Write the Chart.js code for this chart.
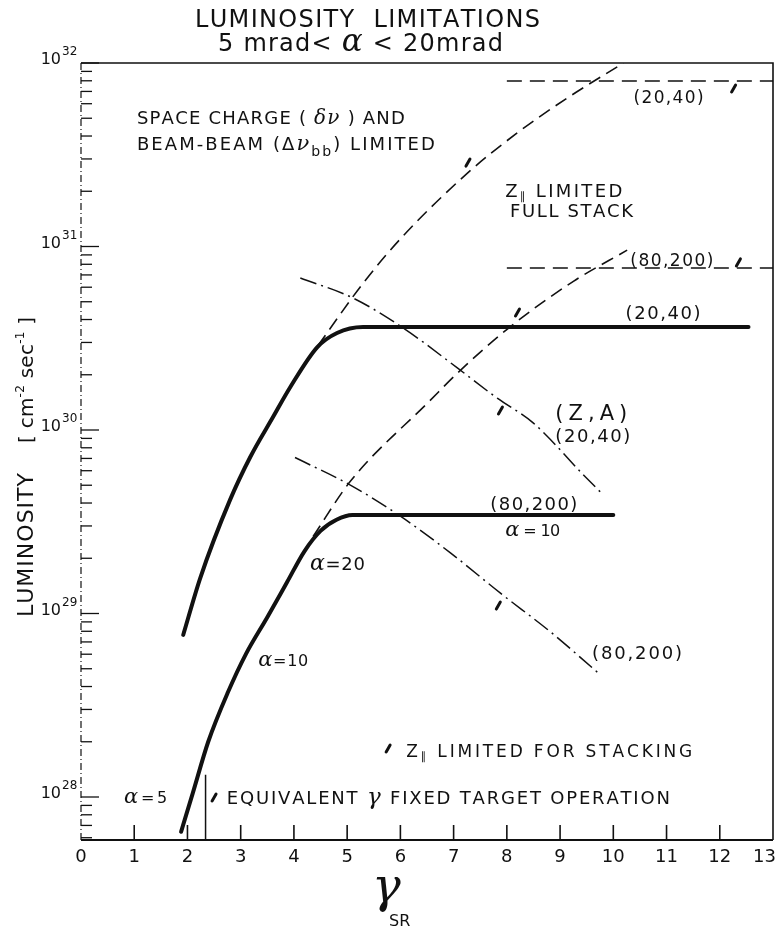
<!DOCTYPE html>
<html>
<head>
<meta charset="utf-8">
<title>Luminosity limitations</title>
<script src="https://cdn.jsdelivr.net/npm/chart.js@4.4.1/dist/chart.umd.min.js"></script>
<style>
  html, body { margin: 0; padding: 0; background: #fff; }
  canvas { display: block; }
</style>
</head>
<body>
<canvas id="chart" width="777" height="940"></canvas>
<script>
// ---- axis ranges and ticks ----
const gammaMin = 0, gammaMax = 13;
const lumMin = 5.83e27, lumMax = 1e32;
const gammaTicks = [0, 1, 2, 3, 4, 5, 6, 7, 8, 9, 10, 11, 12, 13];
const lumDecades = [28, 29, 30, 31, 32];
const lumMinorMultiples = [2, 3, 4, 5, 6, 7, 8, 9];

// ---- achievable luminosity, (Z,A) = (20,40) and (80,200) ----
const gammaLum2040 = [1.92, 2.24, 2.80, 3.18, 3.61, 3.93, 4.44, 4.81, 5.30, 12.54];
const lumLum2040   = [7.64e28, 1.56e29, 4.16e29, 7.13e29, 1.18e30, 1.71e30, 2.83e30, 3.38e30, 3.64e30, 3.64e30];
const gammaLum80200 = [1.88, 2.10, 2.39, 2.76, 3.10, 3.50, 3.87, 4.20, 4.50, 4.80, 5.10, 10.0];
const lumLum80200   = [6.46e27, 1.05e28, 2.00e28, 3.72e28, 6.03e28, 9.55e28, 1.48e29, 2.19e29, 2.82e29, 3.24e29, 3.44e29, 3.44e29];

// ---- Z|| limited, full stack ----
const gammaStack2040 = [4.45, 5.30, 6.00, 7.26, 8.20, 9.14, 10.19];
const lumStack2040   = [2.88e30, 6.31e30, 1.10e31, 2.51e31, 4.17e31, 6.46e31, 1.00e32];
const gammaStack80200 = [4.36, 5.06, 6.56, 7.07, 8.01, 9.25, 10.26];
const lumStack80200   = [2.63e29, 5.25e29, 1.45e30, 2.04e30, 3.55e30, 6.46e30, 9.55e30];

// ---- space charge / beam-beam limits ----
const gammaSpace2040 = [4.12, 5.11, 6.05, 7.07, 7.82, 8.50, 9.44, 9.81];
const lumSpace2040   = [6.73e30, 5.24e30, 3.60e30, 2.18e30, 1.49e30, 1.09e30, 5.69e29, 4.43e29];
const gammaSpace80200 = [4.02, 5.06, 6.00, 6.94, 7.88, 8.82, 9.70];
const lumSpace80200   = [7.08e29, 5.01e29, 3.39e29, 2.14e29, 1.29e29, 7.94e28, 4.79e28];

// ---- Z|| limited for stacking (horizontal levels) ----
const gammaStackLevel = [8.0, 13.0];
const lumStackLevel2040  = [7.98e31, 7.98e31];
const lumStackLevel80200 = [7.64e30, 7.64e30];

// ---- equivalent gamma of fixed target operation ----
const gammaFixedTarget = [2.34, 2.34];
const lumFixedTarget   = [1.32e28, 5.83e27];

const SANS = '"DejaVu Sans", "Liberation Sans", sans-serif';
const SERIF = '"DejaVu Serif", "Liberation Serif", serif';
const INK = '#111';

function pts(gs, ls) { return gs.map((g, i) => ({ x: g, y: ls[i] })); }

// text placed in data space: g = gamma, lg = log10(luminosity) at cap centre
const notes = [
  { g: 1.05, lg: 31.706, w: 268, s: 18, parts: [{ t: 'SPACE CHARGE ( ' }, { t: 'δν', it: true, serif: true, s: 20 }, { t: ' ) AND' }] },
  { g: 1.05, lg: 31.564, w: 298, s: 18, parts: [{ t: 'BEAM-BEAM (' }, { t: 'Δ' }, { t: 'ν', it: true, serif: true, s: 21 }, { t: 'bb', s: 14, dy: 6 }, { t: ') LIMITED' }] },
  { g: 7.97, lg: 31.308, w: 117, s: 18, parts: [{ t: 'Z' }, { t: '∥', s: 11, dy: 3 }, { t: ' LIMITED' }] },
  { g: 8.06, lg: 31.199, w: 123, s: 18, parts: [{ t: 'FULL STACK' }] },
  { g: 10.38, lg: 31.815, w: 70, s: 17, parts: [{ t: '(20,40)' }] },
  { g: 10.32, lg: 30.926, w: 83, s: 17, parts: [{ t: '(80,200)' }] },
  { g: 10.23, lg: 30.638, w: 75, s: 18, parts: [{ t: '(20,40)' }] },
  { g: 8.91, lg: 30.098, w: 72, s: 21, parts: [{ t: '( Z , A )' }] },
  { g: 8.91, lg: 29.973, w: 75, s: 18, parts: [{ t: '(20,40)' }] },
  { g: 7.69, lg: 29.602, w: 87, s: 18, parts: [{ t: '(80,200)' }] },
  { g: 7.97, lg: 29.455, w: 55, s: 16, parts: [{ t: 'α', it: true, serif: true, s: 21 }, { t: ' = 10' }] },
  { g: 4.30, lg: 29.275, w: 55, s: 18, parts: [{ t: 'α', it: true, serif: true, s: 22 }, { t: '=20' }] },
  { g: 9.60, lg: 28.790, w: 90, s: 18, parts: [{ t: '(80,200)' }] },
  { g: 3.33, lg: 28.747, w: 50, s: 16, parts: [{ t: 'α', it: true, serif: true, s: 21 }, { t: '=10' }] },
  { g: 6.11, lg: 28.251, w: 286, s: 17, parts: [{ t: 'Z' }, { t: '∥', s: 11, dy: 3 }, { t: ' LIMITED FOR STACKING' }] },
  { g: 0.81, lg: 28.0, w: 43, s: 16, parts: [{ t: 'α', it: true, serif: true, s: 21 }, { t: '=5' }] },
  { g: 2.74, lg: 28.0, w: 443, s: 18, parts: [{ t: 'EQUIVALENT ' }, { t: 'γ', it: true, serif: true, s: 23 }, { t: ' FIXED TARGET OPERATION' }] }
];

// little side markers on the limit lines
const barbs = [
  { g: 7.27, lg: 31.460 }, { g: 12.26, lg: 31.864 }, { g: 12.35, lg: 30.916 },
  { g: 8.20, lg: 30.643 }, { g: 7.88, lg: 30.109 }, { g: 7.84, lg: 29.046 },
  { g: 2.50, lg: 28.0 }, { g: 5.77, lg: 28.267 }
];

function fontOf(p, base) {
  return (p.it ? 'italic ' : '') + (p.s || base) + 'px ' + (p.serif ? SERIF : SANS);
}

// draw mixed-style text char by char, spread to a given width
function drawRich(ctx, x, yBase, parts, base, width, align) {
  const glyphs = [];
  parts.forEach(p => {
    ctx.font = fontOf(p, base);
    const f = ctx.font;
    for (const ch of p.t) glyphs.push({ ch, f, w: ctx.measureText(ch).width, dy: p.dy || 0 });
  });
  const natural = glyphs.reduce((a, g) => a + g.w, 0);
  const gap = width ? (width - natural) / Math.max(1, glyphs.length - 1) : 0;
  const total = width || natural;
  let cx = align === 'center' ? x - total / 2 : align === 'right' ? x - total : x;
  for (const g of glyphs) {
    ctx.font = g.f;
    ctx.fillText(g.ch, cx, yBase + g.dy);
    cx += g.w + gap;
  }
}

const frame = {
  id: 'frame',
  beforeDatasetsDraw(chart) {
    const { ctx, chartArea: a, scales: { x, y } } = chart;
    ctx.save();
    ctx.strokeStyle = INK;
    ctx.lineCap = 'butt';
    // left axis
    ctx.lineWidth = 1.2;
    ctx.setLineDash([7, 3, 1, 3]);
    ctx.beginPath(); ctx.moveTo(a.left, a.top); ctx.lineTo(a.left, a.bottom); ctx.stroke();
    ctx.setLineDash([]);
    // top and right border
    ctx.lineWidth = 1.6;
    ctx.beginPath();
    ctx.moveTo(a.left, a.top); ctx.lineTo(a.right, a.top); ctx.lineTo(a.right, a.bottom);
    ctx.stroke();
    // bottom axis
    ctx.lineWidth = 2;
    ctx.beginPath(); ctx.moveTo(a.left, a.bottom); ctx.lineTo(a.right, a.bottom); ctx.stroke();

    // gamma ticks (inward)
    ctx.lineWidth = 1.6;
    gammaTicks.forEach(v => {
      if (v === gammaMin || v === gammaMax) return;
      const px = x.getPixelForValue(v);
      ctx.beginPath(); ctx.moveTo(px, a.bottom); ctx.lineTo(px, a.bottom - 15); ctx.stroke();
    });
    // luminosity ticks (inward)
    ctx.lineWidth = 1.3;
    for (let d = lumDecades[0] - 1; d <= lumDecades[lumDecades.length - 1]; d++) {
      const major = Math.pow(10, d);
      if (major >= lumMin && major <= lumMax) {
        const py = y.getPixelForValue(major);
        ctx.beginPath(); ctx.moveTo(a.left, py); ctx.lineTo(a.left + 18, py); ctx.stroke();
      }
      lumMinorMultiples.forEach(m => {
        const v = m * major;
        if (v < lumMin || v > lumMax) return;
        const py = y.getPixelForValue(v);
        ctx.beginPath(); ctx.moveTo(a.left, py); ctx.lineTo(a.left + 11, py); ctx.stroke();
      });
    }
    ctx.restore();
  },
  afterDatasetsDraw(chart) {
    const { ctx, chartArea: a, scales: { x, y } } = chart;
    ctx.save();
    ctx.fillStyle = INK;
    ctx.textBaseline = 'alphabetic';

    // gamma tick labels (the last one kept inside the canvas)
    gammaTicks.forEach(v => {
      const px = x.getPixelForValue(v);
      if (v === gammaMax) drawRich(ctx, Math.min(px + 10, 776), a.bottom + 22, [{ t: String(v) }], 18, 0, 'right');
      else drawRich(ctx, px, a.bottom + 22, [{ t: String(v) }], 18, 0, 'center');
    });
    // decade labels
    lumDecades.forEach(d => {
      const py = y.getPixelForValue(Math.pow(10, d));
      drawRich(ctx, a.left - 20, py + 1, [{ t: '10' }], 16, 0, 'right');
      drawRich(ctx, a.left - 19, py - 8, [{ t: String(d) }], 12, 0, 'left');
    });

    // title
    drawRich(ctx, 195, 27, [{ t: 'LUMINOSITY  LIMITATIONS' }], 24, 345, 'left');
    drawRich(ctx, 218, 51, [{ t: '5 mrad< ' }, { t: 'α', it: true, serif: true, s: 31 }, { t: ' < 20mrad' }], 24, 285, 'left');

    // x title
    ctx.font = 'italic 48px ' + SERIF;
    ctx.fillText('γ', 372, 902);
    drawRich(ctx, 389, 926, [{ t: 'SR' }], 16, 0, 'left');

    // y title, rotated
    ctx.save();
    ctx.translate(25 + 0.365 * 22, 617);
    ctx.rotate(-Math.PI / 2);
    drawRich(ctx, 0, 0, [{ t: 'LUMINOSITY' }], 22, 144, 'left');
    drawRich(ctx, 174, 0, [{ t: '[ ' }, { t: 'cm' }, { t: '-2', s: 12, dy: -9 }, { t: ' sec' }, { t: '-1', s: 12, dy: -9 }, { t: ' ]' }], 20, 126, 'left');
    ctx.restore();

    // in-plot notes
    notes.forEach(n => {
      const base = n.s || 16;
      const px = x.getPixelForValue(n.g);
      const py = y.getPixelForValue(Math.pow(10, n.lg));
      drawRich(ctx, px, py + 0.365 * base, n.parts, base, n.w, 'left');
    });

    // side markers
    ctx.strokeStyle = INK;
    ctx.lineWidth = 3;
    ctx.lineCap = 'round';
    barbs.forEach(b => {
      const px = x.getPixelForValue(b.g);
      const py = y.getPixelForValue(Math.pow(10, b.lg));
      ctx.beginPath(); ctx.moveTo(px - 2, py + 4); ctx.lineTo(px + 2, py - 3); ctx.stroke();
    });
    ctx.restore();
  }
};

const solid = { borderColor: INK, backgroundColor: INK, borderWidth: 4, pointRadius: 0, showLine: true, fill: false,
  cubicInterpolationMode: 'monotone', borderCapStyle: 'round', borderJoinStyle: 'round' };
const dashed = { borderColor: INK, borderWidth: 1.6, pointRadius: 0, showLine: true, fill: false,
  cubicInterpolationMode: 'monotone', borderDash: [13, 7] };
const dashDot = { borderColor: INK, borderWidth: 1.5, pointRadius: 0, showLine: true, fill: false,
  cubicInterpolationMode: 'monotone', borderDash: [17, 5, 2, 5] };
const level = { borderColor: INK, borderWidth: 1.5, pointRadius: 0, showLine: true, fill: false, borderDash: [15, 8] };
const thin = { borderColor: INK, borderWidth: 1.5, pointRadius: 0, showLine: true, fill: false };

new Chart(document.getElementById('chart'), {
  type: 'scatter',
  data: {
    datasets: [
      { ...solid, label: '(20,40)', data: pts(gammaLum2040, lumLum2040) },
      { ...solid, label: '(80,200)', data: pts(gammaLum80200, lumLum80200) },
      { ...dashed, label: 'Z|| full stack (20,40)', data: pts(gammaStack2040, lumStack2040) },
      { ...dashed, label: 'Z|| full stack (80,200)', data: pts(gammaStack80200, lumStack80200) },
      { ...dashDot, label: 'space charge (20,40)', data: pts(gammaSpace2040, lumSpace2040) },
      { ...dashDot, label: 'space charge (80,200)', data: pts(gammaSpace80200, lumSpace80200) },
      { ...level, label: 'Z|| stacking (20,40)', data: pts(gammaStackLevel, lumStackLevel2040) },
      { ...level, label: 'Z|| stacking (80,200)', data: pts(gammaStackLevel, lumStackLevel80200) },
      { ...thin, label: 'fixed target', data: pts(gammaFixedTarget, lumFixedTarget) }
    ]
  },
  options: {
    responsive: false,
    animation: false,
    devicePixelRatio: 1,
    layout: { padding: { left: 81, top: 63, right: 4, bottom: 100 } },
    plugins: { legend: { display: false }, tooltip: { enabled: false } },
    scales: {
      x: { type: 'linear', min: gammaMin, max: gammaMax, display: false },
      y: { type: 'logarithmic', min: lumMin, max: lumMax, display: false }
    }
  },
  plugins: [frame]
});
</script>
</body>
</html>
